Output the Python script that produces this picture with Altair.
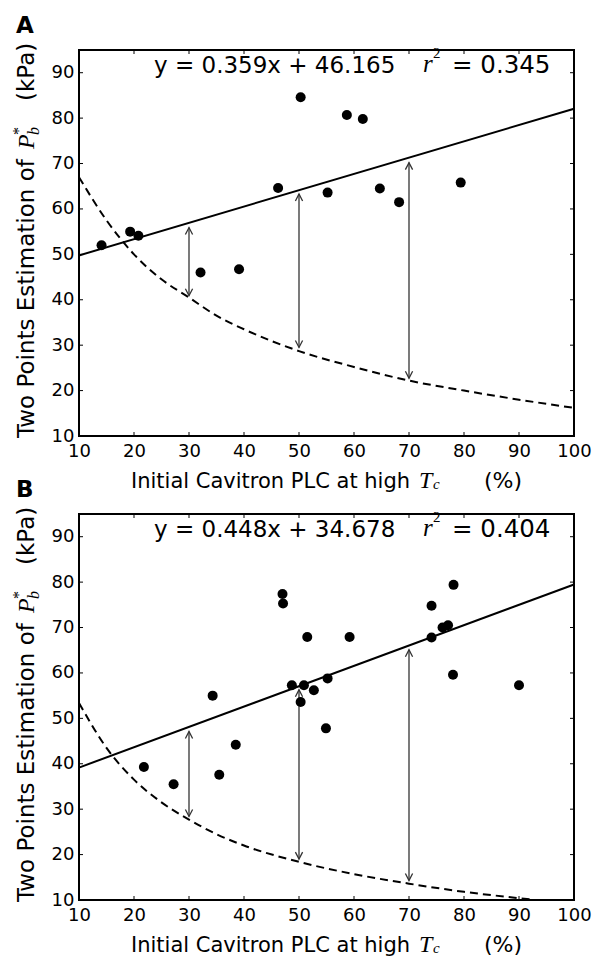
import altair as alt
import pandas as pd

# ---------------- data ----------------
a_x = [14.1, 19.3, 20.8, 32.1, 39.1, 46.2, 50.3, 55.2, 58.7, 61.6, 64.7, 68.2, 79.4]
a_y = [52.0, 55.0, 54.1, 46.0, 46.7, 64.6, 84.6, 63.6, 80.7, 79.8, 64.5, 61.5, 65.8]

b_x = [21.8, 27.2, 35.5, 34.3, 38.5, 47.0, 47.1, 48.7, 50.9, 50.3, 51.5,
       52.7, 55.2, 54.9, 59.2, 74.1, 74.1, 76.1, 77.1, 78.1, 78.0, 90.0]
b_y = [39.3, 35.5, 37.6, 55.0, 44.2, 77.4, 75.3, 57.3, 57.3, 53.6, 67.9,
       56.2, 58.8, 47.8, 67.9, 74.8, 67.8, 70.0, 70.5, 79.4, 59.6, 57.3]

fit_x = [10, 100]
a_fit_y = [49.76, 82.07]
b_fit_y = [39.16, 79.48]

a_curve_x = [10, 15, 20, 25, 30, 35, 40, 50, 60, 70, 80, 90, 100]
a_curve_y = [67.0, 57.5, 50.0, 44.5, 40.5, 36.5, 33.5, 28.7, 25.2, 22.2, 20.0, 18.0, 16.2]
b_curve_x = [10, 15, 20, 25, 30, 35, 40, 50, 60, 70, 80, 90, 93]
b_curve_y = [53.4, 43.5, 36.5, 31.5, 27.7, 24.5, 22.0, 18.4, 15.7, 13.6, 11.8, 10.4, 10.0]

arrow_x = [30, 50, 70]
a_arrow_top = [55.9, 63.3, 70.2]
a_arrow_bot = [40.9, 29.5, 22.7]
b_arrow_top = [47.1, 56.3, 65.1]
b_arrow_bot = [28.4, 19.0, 14.3]

x_ticks = [10, 20, 30, 40, 50, 60, 70, 80, 90, 100]
y_ticks = [10, 20, 30, 40, 50, 60, 70, 80, 90]

a_eq = ["y = 0.359x + 46.165", "= 0.345"]
b_eq = ["y = 0.448x + 34.678", "= 0.404"]
x_title = ["Initial Cavitron PLC at high", "T", "c", "(%)"]
y_title = ["Two Points Estimation of", "P", "b", "*", "(kPa)"]

# ---------------- styling ----------------
W, H = 495, 386
SANS = "DejaVu Sans"
SERIF = "Liberation Serif"
XFS = 21   # x-title font size
YFS = 23   # y-title font size
EFS = 23   # equation font size
UP = "M-0.9,1.75L0,0L0.9,1.75"
DOWN = "M-0.9,-1.75L0,0L0.9,-1.75"

X = alt.X("x:Q", scale=alt.Scale(domain=[10, 100], nice=False, zero=False),
          axis=alt.Axis(values=x_ticks, title=None, ticks=False, domain=False, grid=False,
                        labelFont=SANS, labelFontSize=18, labelColor="black",
                        labelPadding=6, labelFlush=False, labelOverlap=False))
Y = alt.Y("y:Q", scale=alt.Scale(domain=[10, 95], nice=False, zero=False),
          axis=alt.Axis(values=y_ticks, title=None, ticks=False, domain=False, grid=False,
                        labelFont=SANS, labelFontSize=18, labelColor="black",
                        labelPadding=5, labelFlush=False, labelOverlap=False))


def txt(s, x, y, size, font=SANS, style="normal", weight="normal", angle=0):
    kw = dict(align="left", baseline="alphabetic", font=font, fontSize=size,
              fontStyle=style, fontWeight=weight, color="black")
    if angle:
        kw["angle"] = angle
    return alt.Chart(pd.DataFrame({"t": [s]})).mark_text(**kw).encode(
        text="t:N", x=alt.value(x), y=alt.value(y))


def build(letter, px, py, fy, cx, cy, top, bot, eq, anchor=False):
    pts = pd.DataFrame({"x": px, "y": py})
    fit = pd.DataFrame({"x": fit_x, "y": fy})
    cur = pd.DataFrame({"x": cx, "y": cy})
    arr = pd.DataFrame({"x": arrow_x, "y": top, "y2": bot})
    arr_top = pd.DataFrame({"x": arrow_x, "y": top})
    arr_bot = pd.DataFrame({"x": arrow_x, "y": bot})
    xt = pd.DataFrame({"x": x_ticks})
    yt = pd.DataFrame({"y": y_ticks})

    layers = []
    layers.append(alt.Chart(cur).mark_line(color="black", strokeWidth=2, strokeDash=[8, 5],
                                           interpolate="monotone", clip=True).encode(x=X, y=Y))
    layers.append(alt.Chart(fit).mark_line(color="black", strokeWidth=2).encode(x=X, y=Y))
    layers.append(alt.Chart(arr).mark_rule(color="#333333", strokeWidth=1.3).encode(
        x=X, y=Y, y2=alt.Y2("y2:Q")))
    layers.append(alt.Chart(arr_top).mark_point(shape=UP, size=64, filled=False,
                                                color="#333333", strokeWidth=1.3,
                                                opacity=1).encode(x=X, y=Y))
    layers.append(alt.Chart(arr_bot).mark_point(shape=DOWN, size=64, filled=False,
                                                color="#333333", strokeWidth=1.3,
                                                opacity=1).encode(x=X, y=Y))
    layers.append(alt.Chart(pts).mark_circle(size=100, color="black", opacity=1).encode(x=X, y=Y))
    # inward ticks on all four sides
    layers.append(alt.Chart(xt).mark_rule(color="black", strokeWidth=1).encode(
        x=X, y=alt.value(H), y2=alt.value(H - 4)))
    layers.append(alt.Chart(xt).mark_rule(color="black", strokeWidth=1).encode(
        x=X, y=alt.value(0), y2=alt.value(4)))
    layers.append(alt.Chart(yt).mark_rule(color="black", strokeWidth=1).encode(
        y=Y, x=alt.value(0), x2=alt.value(4)))
    layers.append(alt.Chart(yt).mark_rule(color="black", strokeWidth=1).encode(
        y=Y, x=alt.value(W), x2=alt.value(W - 4)))
    # equation
    layers.append(txt(eq[0], 75, 23, EFS))
    layers.append(txt("r", 344, 22, 25, font=SERIF, style="italic"))
    layers.append(txt("2", 354, 8, 15, font=SERIF))
    layers.append(txt(eq[1], 373, 23, 24.5))
    # panel letter
    layers.append(txt(letter, -63, -17, 23, weight="bold"))
    # x title
    layers.append(txt(x_title[0], 52, 438, XFS))
    layers.append(txt(x_title[1], 340, 438, 24, font=SERIF, style="italic"))
    layers.append(txt(x_title[2], 354, 439, 15, font=SERIF, style="italic"))
    layers.append(txt(x_title[3], 405, 438, 22))
    # y title (rotated)
    layers.append(txt(y_title[0], -45, 388, YFS, angle=270))
    layers.append(txt(y_title[1], -45, 99, 24, font=SERIF, style="italic", angle=270))
    layers.append(txt(y_title[2], -40, 85, 16, font=SERIF, style="italic", angle=270))
    layers.append(txt(y_title[3], -55, 85, 16, font=SERIF, angle=270))
    layers.append(txt(y_title[4], -45, 100 - 49, YFS, angle=270))
    if anchor:
        layers.append(alt.Chart(pd.DataFrame({"a": [0]})).mark_rule(opacity=0).encode(
            x=alt.value(-78), x2=alt.value(-70), y=alt.value(-49)))
    return alt.layer(*layers).properties(width=W, height=H)


top_panel = build("A", a_x, a_y, a_fit_y, a_curve_x, a_curve_y, a_arrow_top, a_arrow_bot, a_eq, anchor=True)
bot_panel = build("B", b_x, b_y, b_fit_y, b_curve_x, b_curve_y, b_arrow_top, b_arrow_bot, b_eq)

chart = alt.vconcat(top_panel, bot_panel, spacing=78, bounds="flush").properties(
    padding=0, background="white"
).configure_view(stroke="black", strokeWidth=2)

chart.save("out.html", embed_options={"renderer": "svg", "actions": False})
